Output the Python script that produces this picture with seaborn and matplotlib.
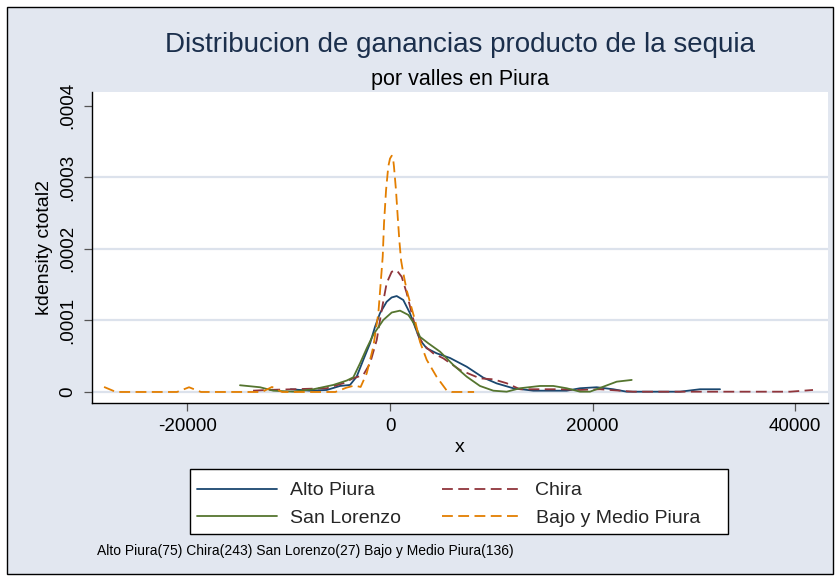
import matplotlib
matplotlib.use("Agg")
import matplotlib.pyplot as plt
from matplotlib.patches import Rectangle
import seaborn as sns
import pandas as pd

# ---------------- data ----------------
alto_x = [-9800, -7900, -6250, -4940, -3950, -3290, -2640, -1970, -1480, -990, -330,
          160, 660, 1310, 1970, 2470, 2960, 3620, 4610, 5920, 7570, 9210, 10530, 12170,
          14150, 17440, 18760, 20400, 22040, 23370, 28630, 30600, 32580]
alto_y = [3.8e-6, 1.8e-6, 2.8e-6, 8.4e-6, 9.8e-6, 21.4e-6, 44.7e-6, 68e-6, 91e-6, 110e-6, 126e-6,
          132e-6, 134e-6, 128.5e-6, 110e-6, 91e-6, 72.6e-6, 61e-6, 54e-6, 47.5e-6, 35.3e-6, 20e-6, 12e-6, 5.2e-6,
          1.8e-6, 1.8e-6, 5.2e-6, 6.6e-6, 3.8e-6, 0.4e-6, 0.4e-6, 3.8e-6, 3.8e-6]

chira_x = [-13520, -12140, -9580, -6250, -4610, -3650, -2640, -1970, -1310, -820, -330,
           170, 660, 1150, 1650, 2140, 2640, 3290, 4270, 5260, 6910, 8880, 10200, 11520,
           12830, 14810, 16780, 18760, 20730, 22710, 23990, 39490, 41760]
chira_y = [1.8e-6, 2.8e-6, 3.8e-6, 5.2e-6, 12.2e-6, 19e-6, 23.7e-6, 40e-6, 72.6e-6, 114.5e-6, 152e-6,
           168e-6, 170e-6, 161e-6, 138e-6, 110e-6, 84e-6, 65.7e-6, 54e-6, 47e-6, 30.7e-6, 19e-6, 17.7e-6, 12.2e-6,
           3.8e-6, 3.8e-6, 3.8e-6, 2.8e-6, 3.8e-6, 1.8e-6, 0.4e-6, 0.4e-6, 2.8e-6]

sanlor_x = [-14810, -12830, -11520, -9550, -7570, -5600, -4270, -3620, -2960, -2300, -1650,
            -660, 170, 990, 1810, 2470, 2960, 3780, 4940, 6250, 7570, 8880, 10200, 11520,
            12830, 14810, 16120, 17440, 18760, 19740, 21060, 22380, 23860]
sanlor_y = [9.4e-6, 6.6e-6, 1.8e-6, 0.4e-6, 3.8e-6, 9.8e-6, 16e-6, 20.5e-6, 40e-6, 61e-6, 80e-6,
            100.6e-6, 111e-6, 113.6e-6, 107.6e-6, 93.6e-6, 77e-6, 68e-6, 56.3e-6, 37.7e-6, 21.4e-6, 8.4e-6, 1.8e-6, 0.4e-6,
            5.2e-6, 8.4e-6, 8.4e-6, 5.2e-6, 0.4e-6, 0.4e-6, 7.4e-6, 14.4e-6, 16.8e-6]

bajo_x = [-28230, -27050, -21030, -19840, -18660, -12640, -11650, -10660, -5400, -4300,
          -3500, -2900, -2300, -1650, -1150, -720, -590, -390, -170, 0, 170, 320, 390, 590, 760,
          920, 1090, 1310, 1650, 2470, 2960, 3620, 4610, 5600, 6100, 8300]
bajo_y = [7e-6, 0, 0, 6.6e-6, 0, 0, 7e-6, 0, 0, 6e-6,
          9e-6, 7e-6, 26e-6, 63e-6, 110e-6, 189e-6, 236e-6, 282e-6, 315e-6, 326e-6, 330e-6, 324e-6, 315e-6, 282e-6, 245e-6,
          212e-6, 184e-6, 166e-6, 142e-6, 100e-6, 70e-6, 45e-6, 21e-6, 2e-6, 0, 0]

series_names = ["Alto Piura", "Chira", "San Lorenzo", "Bajo y Medio Piura"]
series_x = [alto_x, chira_x, sanlor_x, bajo_x]
series_y = [alto_y, chira_y, sanlor_y, bajo_y]

xticks = [-20000, 0, 20000, 40000]
xtick_labels = ["-20000", "0", "20000", "40000"]
yticks = [0, 0.0001, 0.0002, 0.0003, 0.0004]
ytick_labels = ["0", ".0001", ".0002", ".0003", ".0004"]

title = "Distribucion de ganancias producto de la sequia"
subtitle = "por valles en Piura"
note = "Alto Piura(75) Chira(243) San Lorenzo(27) Bajo y Medio Piura(136)"

# ---------------- build table ----------------
rows = []
for name, xs, ys in zip(series_names, series_x, series_y):
    for i, (xv, yv) in enumerate(zip(xs, ys)):
        rows.append({"valle": name, "order": i, "x": xv, "y": yv})
df = pd.DataFrame(rows)

palette = {"Alto Piura": "#1A476F", "Chira": "#90353B",
           "San Lorenzo": "#55752F", "Bajo y Medio Piura": "#E37E00"}
dashes = {"Alto Piura": "", "Chira": (6, 3),
          "San Lorenzo": "", "Bajo y Medio Piura": (6, 3)}

# ---------------- style ----------------
sns.set_theme(style="white")
plt.rcParams["font.family"] = ["Liberation Sans", "DejaVu Sans"]

W, H = 840, 581
fig = plt.figure(figsize=(W / 100, H / 100), dpi=100, facecolor="white")

bg = "#E2E7F0"
fig.patches.append(Rectangle((7 / W, 1 - 574 / H), (833 - 7) / W, (574 - 7) / H,
                             transform=fig.transFigure, facecolor=bg,
                             edgecolor="black", linewidth=1.0, zorder=-5))

L, R, T, B = 92, 828, 92, 403
ax = fig.add_axes([L / W, 1 - B / H, (R - L) / W, (B - T) / H])
ax.set_facecolor("white")

sns.lineplot(data=df, x="x", y="y", hue="valle", style="valle",
             hue_order=series_names, style_order=series_names,
             palette=palette, dashes=dashes, sort=False, estimator=None,
             units="valle", linewidth=1.3, ax=ax)

ax.set_xlim(-29420, 43240)
ax.set_ylim(-0.0000154, 0.000419)

ax.set_xticks(xticks)
ax.set_xticklabels(xtick_labels)
ax.set_yticks(yticks)
ax.set_yticklabels(ytick_labels, rotation=90, va="center")

# gridlines (Stata-like, skipping the one at the top)
for yv in yticks[:-1]:
    ax.axhline(yv, color="#DCE2EC", linewidth=1.6, zorder=0)

for s in ["top", "right"]:
    ax.spines[s].set_visible(False)
for s in ["left", "bottom"]:
    ax.spines[s].set_color("black")
    ax.spines[s].set_linewidth(1.0)

ax.tick_params(axis="both", which="major", direction="out", length=6,
               width=0.9, color="#555555", labelsize=13.5, labelcolor="black")
ax.tick_params(axis="x", pad=5)
ax.tick_params(axis="y", pad=5)
ax.xaxis.set_ticks_position("bottom")
ax.yaxis.set_ticks_position("left")

ax.set_xlabel("x", fontsize=14, color="black")
ax.set_ylabel("kdensity ctotal2", fontsize=14, color="black")
ax.xaxis.set_label_coords(0.5, -(448 - B) / (B - T))
ax.yaxis.set_label_coords(-(92 - 45) / (R - L), 0.5)
ax.xaxis.label.set_va("center")
ax.yaxis.label.set_va("center")

# titles
cx = (L + R) / 2 / W
fig.text(cx, 1 - 45 / H, title, ha="center", va="center", fontsize=20, color="#1B2F4C")
fig.text(cx, 1 - 80 / H, subtitle, ha="center", va="center", fontsize=15.5, color="black")

# legend: frame drawn as a box, entries placed inside it
fig.patches.append(Rectangle((190 / W, 1 - 534 / H), (728 - 190) / W, (534 - 469) / H,
                             transform=fig.transFigure, facecolor="white",
                             edgecolor="black", linewidth=1.0, zorder=-4))
handles, labels = ax.get_legend_handles_labels()
if ax.get_legend() is not None:
    ax.get_legend().remove()
hmap = dict(zip(labels, handles))
order = ["Alto Piura", "San Lorenzo", "Chira", "Bajo y Medio Piura"]
leg = fig.legend([hmap[k] for k in order], order, loc="center left",
                 bbox_to_anchor=(197 / W, 1 - 504.5 / H),
                 ncol=2, fontsize=14, handlelength=4.1,
                 handletextpad=0.7, columnspacing=2.1, labelspacing=0.52,
                 borderpad=0, borderaxespad=0, frameon=False)
for ln in leg.get_lines():
    ln.set_linewidth(1.3)

fig.text(97 / W, 1 - 551 / H, note, ha="left", va="center", fontsize=10, color="black")

fig.savefig("out.png", dpi=100, facecolor=fig.get_facecolor())
